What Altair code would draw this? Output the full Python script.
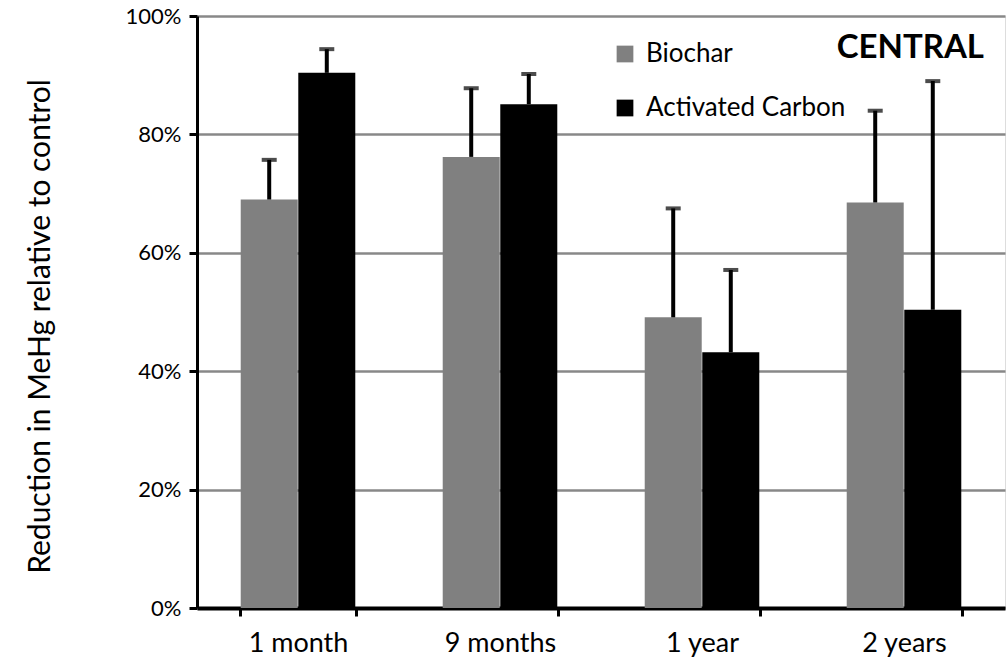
import altair as alt
import pandas as pd

periods = ["1 month", "9 months", "1 year", "2 years"]
biochar = [69.0, 76.2, 49.1, 68.5]
biochar_err = [6.7, 11.6, 18.4, 15.5]
activated = [90.4, 85.1, 43.2, 50.4]
activated_err = [4.0, 5.1, 13.9, 38.6]
series = ["Biochar", "Activated Carbon"]
colors = ["#808080", "#000000"]
y_ticks = [0, 0.2, 0.4, 0.6, 0.8, 1.0]

rows = []
for i, p in enumerate(periods):
    rows.append({"period": p, "series": series[0], "value": biochar[i] / 100,
                 "top": (biochar[i] + biochar_err[i]) / 100})
    rows.append({"period": p, "series": series[1], "value": activated[i] / 100,
                 "top": (activated[i] + activated_err[i]) / 100})
df = pd.DataFrame(rows)

FONT = "Lato"

x = alt.X("period:N", sort=periods, title=None,
          scale=alt.Scale(paddingInner=0.43, paddingOuter=0.215),
          axis=alt.Axis(labelAngle=0, labelFontSize=27, labelFont=FONT, labelColor="#000",
                        labelPadding=14, tickBand="extent", tickSize=8, tickWidth=3,
                        tickColor="#000", domainColor="#000", domainWidth=4))
xo = alt.XOffset("series:N", sort=series)
y = alt.Y("value:Q", title="Reduction in MeHg relative to control",
          scale=alt.Scale(domain=[0, 1], nice=False),
          axis=alt.Axis(values=y_ticks, format=".0%", labelFontSize=22, labelFont=FONT,
                        labelColor="#000", labelPadding=8, tickSize=8, tickWidth=3,
                        tickColor="#000", domainColor="#000", domainWidth=3,
                        gridColor="#888888", gridWidth=2.5,
                        titleFontSize=30, titleFont=FONT, titleFontWeight="normal",
                        titleColor="#000", titleX=-157, titleY=310,
                        titleAlign="center", titleBaseline="middle", titleAngle=270))
color = alt.Color("series:N", sort=series,
                  scale=alt.Scale(domain=series, range=colors),
                  legend=alt.Legend(title=None, orient="none", legendX=415, legendY=25,
                                    symbolType="square", symbolSize=280,
                                    symbolStrokeWidth=0, labelFontSize=26, labelFont=FONT,
                                    labelColor="#000", rowPadding=28, labelOffset=8,
                                    labelLimit=400))

bars = alt.Chart(df).mark_bar(size=57).encode(x=x, xOffset=xo, y=y, color=color)

err = alt.Chart(df).mark_rule(color="#000", strokeWidth=4).encode(
    x=x, xOffset=xo, y="value:Q", y2="top:Q")
cap = alt.Chart(df).mark_tick(color="#000", thickness=4, size=15, orient="horizontal").encode(
    x=x, xOffset=xo, y="top:Q")

label = alt.Chart(pd.DataFrame({"t": ["CENTRAL"]})).mark_text(
    font=FONT, fontSize=33, fontWeight="bold", align="right", baseline="middle",
    color="#000").encode(x=alt.value(787), y=alt.value(32), text="t:N")

chart = alt.layer(bars, err, cap, label).properties(
    width=808, height=592,
    autosize=alt.AutoSizeParams(type="none"),
    padding={"left": 197, "top": 16, "right": 3, "bottom": 54},
).configure_view(stroke="#000", strokeWidth=3).configure(background="white")

chart.save("out.html", embed_options={"renderer": "svg", "actions": False})
